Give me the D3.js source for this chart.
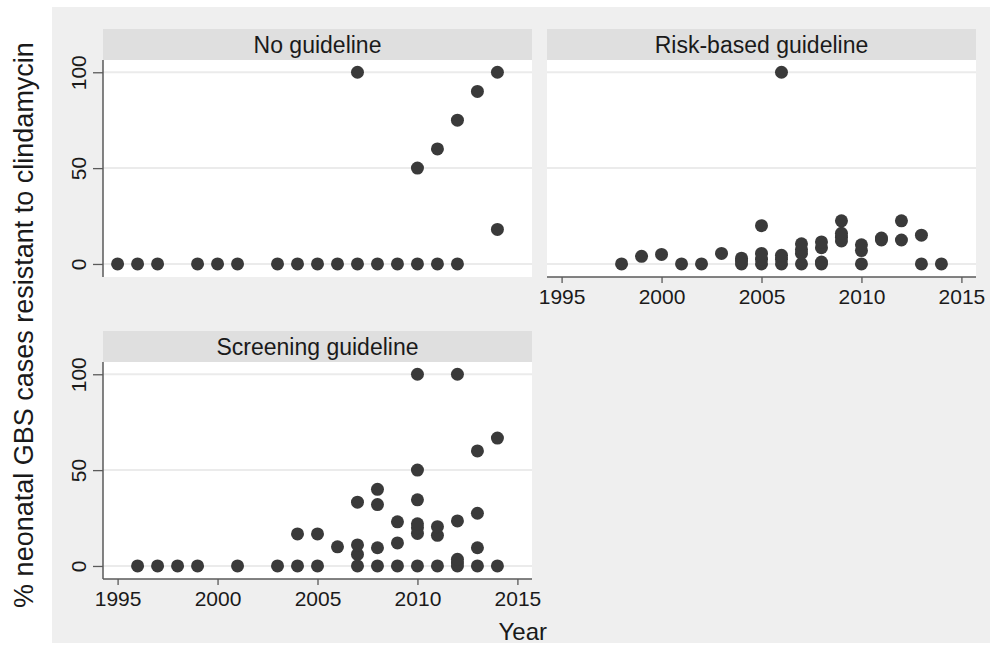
<!DOCTYPE html>
<html>
<head>
<meta charset="utf-8">
<script src="https://cdn.jsdelivr.net/npm/d3@7"></script>
<style>
  html, body { margin: 0; padding: 0; background: #ffffff; }
  svg { display: block; font-family: "Liberation Sans", Arial, Helvetica, sans-serif; }
</style>
</head>
<body>
<svg id="chart" width="990" height="650"></svg>
<script>
// Percentage of neonatal GBS cases resistant to clindamycin, by year and guideline type
const panelTitles = ["No guideline", "Risk-based guideline", "Screening guideline"];

const noGuidelineYears  = [1995, 1996, 1997, 1999, 2000, 2001, 2003, 2004, 2005, 2006, 2007, 2007, 2008, 2009, 2010, 2010, 2011, 2011, 2012, 2012, 2013, 2014, 2014];
const noGuidelineValues = [0,    0,    0,    0,    0,    0,    0,    0,    0,    0,    0,    100,  0,    0,    0,    50,   0,    60,   0,    75,   90,   100,  18];

const riskBasedYears  = [1998, 1999, 2000, 2001, 2002, 2003, 2004, 2004, 2004, 2005, 2005, 2005, 2005, 2006, 2006, 2006, 2006, 2007, 2007, 2007, 2007, 2008, 2008, 2008, 2008, 2009, 2009, 2009, 2009, 2010, 2010, 2010, 2011, 2011, 2012, 2012, 2013, 2013, 2014];
const riskBasedValues = [0,    4,    5,    0,    0,    5.5,  0,    1.5,  3,    0,    2.5,  5.5,  20,   0,    2.5,  4.5,  100,  0,    5.5,  7.5,  10.5, 0,    1,    8.5,  11.5, 12,   14,   16,   22.5, 0,    7,    10,   12.5, 13.5, 12.5, 22.5, 0,    15,   0];

const screeningYears  = [1996, 1997, 1998, 1999, 2001, 2003, 2004, 2004, 2005, 2005, 2006, 2007, 2007, 2007, 2007, 2008, 2008, 2008, 2008, 2009, 2009, 2009, 2010, 2010, 2010, 2010, 2010, 2010, 2010, 2011, 2011, 2011, 2012, 2012, 2012, 2012, 2012, 2013, 2013, 2013, 2013, 2014, 2014];
const screeningValues = [0,    0,    0,    0,    0,    0,    0,    16.7, 0,    16.7, 10,   0,    6,    11,   33.3, 0,    9.5,  32,   40,   0,    12,   23,   0,    17,   20,   22,   34.5, 50,   100,  0,    16,   20.5, 0,    1.5,  3.5,  23.5, 100,  0,    9.5,  27.5, 60,   0,    66.7];

const xTickValues = [1995, 2000, 2005, 2010, 2015];
const yTickValues = [0, 50, 100];

const yTitle = "% neonatal GBS cases resistant to clindamycin";
const xTitle = "Year";

const svg = d3.select("#chart");
const FONT_TXT = "#1a1a1a";
const AXIS_CLR = "#5a5a5a";
const MARK_CLR = "#3a3a3a";

// graph region background
svg.append("rect")
  .attr("x", 52).attr("y", 7).attr("width", 938).attr("height", 636)
  .attr("fill", "#efefef");

const plotW = 429, plotH = 217, stripH = 31;

const panels = [
  { title: panelTitles[0], years: noGuidelineYears, values: noGuidelineValues, x0: 103, top: 29,  yAxis: true,  xAxis: false },
  { title: panelTitles[1], years: riskBasedYears,   values: riskBasedValues,   x0: 547, top: 29,  yAxis: false, xAxis: true  },
  { title: panelTitles[2], years: screeningYears,   values: screeningValues,   x0: 103, top: 331, yAxis: true,  xAxis: true  }
];

const x = d3.scaleLinear().domain([1994.27, 2015.73]).range([0, plotW]);
const y = d3.scaleLinear().domain([-6.8, 106.4]).range([plotH, 0]);

panels.forEach(p => {
  const g = svg.append("g").attr("transform", `translate(${p.x0},${p.top})`);

  // strip with panel title
  g.append("rect").attr("x", 0).attr("y", 0).attr("width", plotW).attr("height", stripH)
    .attr("fill", "#dfdfdf");
  g.append("text")
    .attr("x", plotW / 2).attr("y", stripH / 2 + 8)
    .attr("text-anchor", "middle")
    .attr("font-size", 23).attr("fill", FONT_TXT)
    .text(p.title);

  const pg = g.append("g").attr("transform", `translate(0,${stripH})`);

  // plot region
  pg.append("rect").attr("width", plotW).attr("height", plotH).attr("fill", "#ffffff");

  // horizontal grid lines
  pg.selectAll("line.grid").data(yTickValues).join("line")
    .attr("class", "grid")
    .attr("x1", 0).attr("x2", plotW)
    .attr("y1", d => y(d)).attr("y2", d => y(d))
    .attr("stroke", "#ebebeb").attr("stroke-width", 2);

  // points
  const pts = p.years.map((yr, i) => ({ year: yr, value: p.values[i] }));
  pg.selectAll("circle").data(pts).join("circle")
    .attr("cx", d => x(d.year)).attr("cy", d => y(d.value))
    .attr("r", 6.5).attr("fill", MARK_CLR);

  if (p.yAxis) {
    const ya = pg.append("g")
      .call(d3.axisLeft(y).tickValues(yTickValues).tickSize(10).tickSizeOuter(0).tickFormat(d3.format("d")));
    ya.select(".domain").attr("stroke", AXIS_CLR).attr("stroke-width", 1.5)
      .attr("d", `M0,0V${plotH}`);
    ya.selectAll(".tick line").attr("stroke", AXIS_CLR).attr("stroke-width", 1.3);
    ya.selectAll(".tick text")
      .attr("x", null).attr("dy", null)
      .attr("transform", "translate(-17,0) rotate(-90)")
      .attr("text-anchor", "middle")
      .attr("font-size", 21).attr("fill", FONT_TXT)
      .attr("font-family", null);
  }

  if (p.xAxis) {
    const xa = pg.append("g").attr("transform", `translate(0,${plotH})`)
      .call(d3.axisBottom(x).tickValues(xTickValues).tickSize(6).tickSizeOuter(0).tickPadding(6).tickFormat(d3.format("d")));
    xa.select(".domain").attr("stroke", AXIS_CLR).attr("stroke-width", 1.5)
      .attr("d", `M0,0H${plotW}`);
    xa.selectAll(".tick line").attr("stroke", AXIS_CLR).attr("stroke-width", 1.3);
    xa.selectAll(".tick text")
      .attr("font-size", 21).attr("fill", FONT_TXT)
      .attr("font-family", null);
  }
});

// axis titles
svg.append("text")
  .attr("transform", "translate(33,325) rotate(-90)")
  .attr("text-anchor", "middle")
  .attr("font-size", 27).attr("fill", FONT_TXT)
  .text(yTitle);

svg.append("text")
  .attr("x", 547).attr("y", 640)
  .attr("text-anchor", "end")
  .attr("font-size", 24).attr("fill", FONT_TXT)
  .text(xTitle);
</script>
</body>
</html>
